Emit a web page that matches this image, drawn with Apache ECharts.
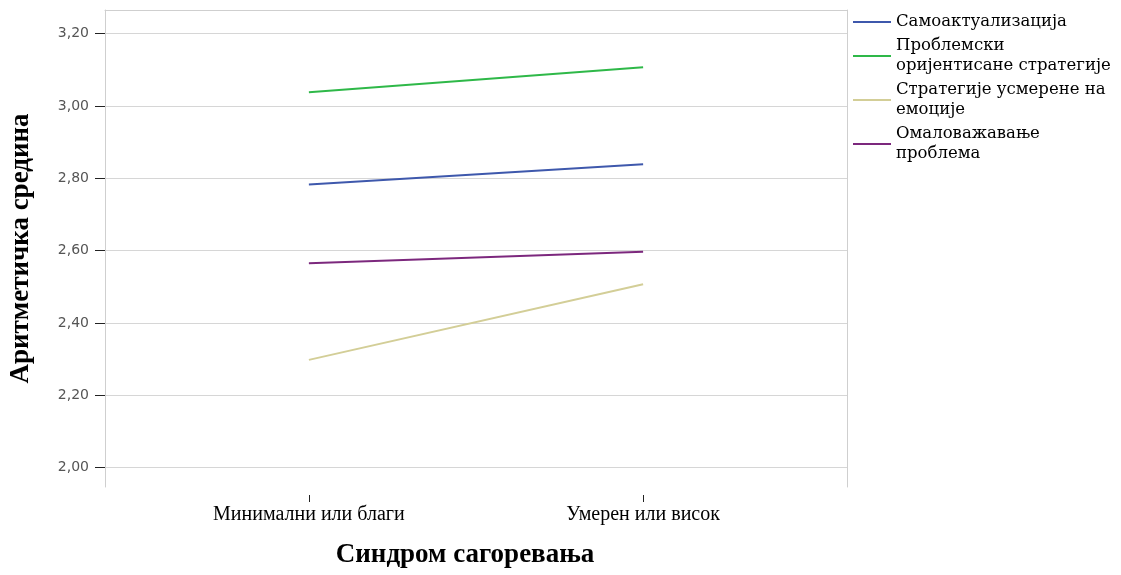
<!DOCTYPE html>
<html><head><meta charset="utf-8">
<script src="https://cdn.jsdelivr.net/npm/echarts@6/dist/echarts.min.js"></script>
<style>html,body{margin:0;padding:0;background:#fff}#c{width:1121px;height:575px}</style>
</head><body><div id="c"></div>
<script>
const categories = ['Минимални или благи', 'Умерен или висок'];
const seriesNames = ['Самоактуализација', 'Проблемски оријентисане стратегије', 'Стратегије усмерене на емоције', 'Омаловажавање проблема'];
const legendLabels = ['Самоактуализација', 'Проблемски\nоријентисане стратегије', 'Стратегије усмерене на\nемоције', 'Омаловажавање\nпроблема'];
const selfActualization = [2.783, 2.839];
const problemFocused = [3.038, 3.107];
const emotionFocused = [2.298, 2.507];
const problemDismissal = [2.565, 2.597];
const yTicks = [2.0, 2.2, 2.4, 2.6, 2.8, 3.0, 3.2];
const xTitle = 'Синдром сагоревања';
const yTitle = 'Аритметичка средина';

const colors = ['#3e58ac', '#2eb848', '#d3ce97', '#7c287d'];
const values = [selfActualization, problemFocused, emotionFocused, problemDismissal];
const serif = 'Liberation Serif';

const chart = echarts.init(document.getElementById('c'), null, {renderer: 'canvas'});
chart.setOption({
  animation: false,
  backgroundColor: '#ffffff',
  grid: {left: 103, top: 10, right: 274, bottom: 88, containLabel: false},
  legend: {
    orient: 'vertical', left: 848, top: 7, itemWidth: 38, itemHeight: 2, itemGap: 4,
    icon: 'rect',
    data: seriesNames,
    formatter: name => legendLabels[seriesNames.indexOf(name)],
    textStyle: {fontFamily: 'DejaVu Serif', fontSize: 16.5, color: '#000', lineHeight: 20}
  },
  xAxis: [{
    type: 'value', min: -0.61, max: 1.61, offset: 8,
    axisLine: {show: false, onZero: false},
    axisTick: {show: true, length: 7, lineStyle: {color: '#222', width: 1}, customValues: [0, 1]},
    axisLabel: {customValues: [0, 1], margin: 10, fontFamily: serif, fontSize: 20, color: '#000',
      formatter: v => categories[Math.round(v)]},
    splitLine: {show: false},
    name: xTitle, nameLocation: 'middle', nameGap: 47,
    nameTextStyle: {fontFamily: serif, fontSize: 27, fontWeight: 'bold', color: '#000', padding: [0, 22, 0, 0]}
  }, {
    type: 'value', position: 'top', min: -0.61, max: 1.61,
    axisLine: {show: true, onZero: false, lineStyle: {color: '#cfcfcf', width: 1}},
    axisTick: {show: false}, axisLabel: {show: false}, splitLine: {show: false}
  }],
  yAxis: [{
    type: 'value', min: 1.9467, max: 3.265,
    axisLine: {show: true, onZero: false, lineStyle: {color: '#cfcfcf', width: 1}},
    axisTick: {show: true, length: 10, lineStyle: {color: '#222'}, customValues: yTicks},
    axisLabel: {customValues: yTicks, margin: 16, fontFamily: 'DejaVu Sans', fontSize: 14, color: '#555',
      formatter: v => v.toFixed(2).replace('.', ',')},
    splitLine: {show: true, lineStyle: {color: '#d6d6d6', width: 1}},
    name: yTitle, nameLocation: 'middle', nameGap: 70,
    nameTextStyle: {fontFamily: serif, fontSize: 27, fontWeight: 'bold', color: '#000'}
  }, {
    type: 'value', position: 'right', min: 1.9467, max: 3.265,
    axisLine: {show: true, onZero: false, lineStyle: {color: '#cfcfcf', width: 1}},
    axisTick: {show: false}, axisLabel: {show: false}, splitLine: {show: false}
  }],
  series: seriesNames.map((n, k) => ({
    name: n, type: 'line', symbol: 'none', xAxisIndex: 0, yAxisIndex: 0,
    lineStyle: {color: colors[k], width: 2}, itemStyle: {color: colors[k]},
    data: categories.map((c, i) => [i, values[k][i]])
  }))
});
</script></body></html>
